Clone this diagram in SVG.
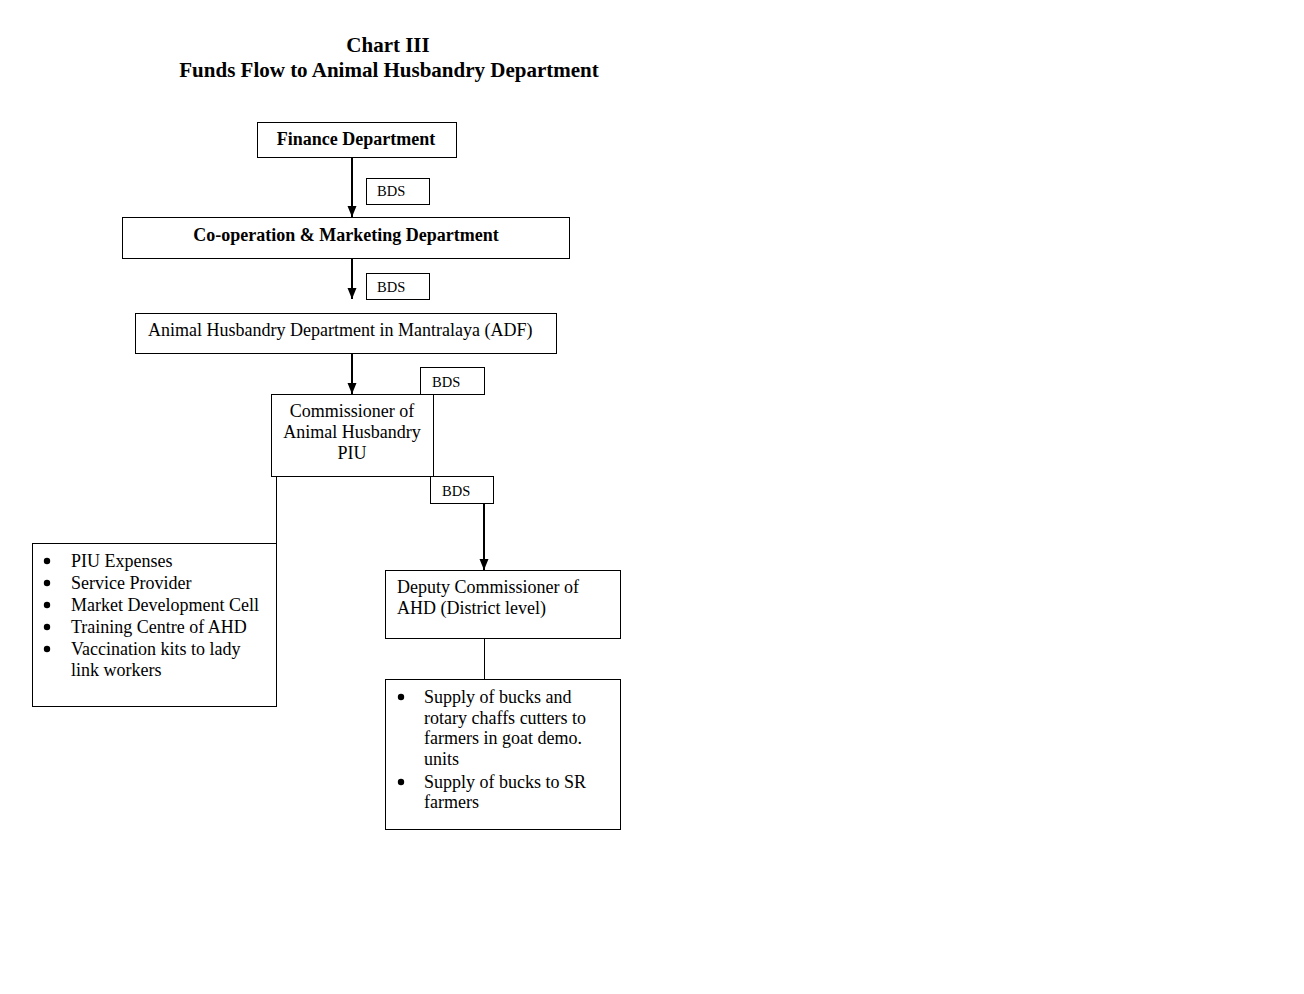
<svg xmlns="http://www.w3.org/2000/svg" width="1304" height="994" viewBox="0 0 1304 994">
  <style>
    .box { fill: #fff; stroke: #000; stroke-width: 1; }
    .t { font-family: "Liberation Serif", "Times New Roman", serif; font-size: 18px; fill: #000; }
    .b { font-weight: bold; font-size: 18px; }
    .title { font-family: "Liberation Serif", "Times New Roman", serif; font-size: 21px; font-weight: bold; text-anchor: middle; }
    .lbl { font-family: "Liberation Serif", "Times New Roman", serif; font-size: 14.5px; }
    .flow { stroke: #000; stroke-width: 2; fill: none; }
    .thin { stroke: #000; stroke-width: 1; fill: none; }
  </style>
  <defs>
    <marker id="head" markerWidth="11" markerHeight="11" refX="11" refY="5" orient="auto" markerUnits="userSpaceOnUse">
      <path d="M0,0.5 L11,5 L0,9.5 Z" fill="#000"/>
    </marker>
  </defs>
  <rect width="1304" height="994" fill="#fff"/>

  <g id="title">
    <text class="title" x="388" y="52">Chart III</text>
    <text class="title" x="389" y="77">Funds Flow to Animal Husbandry Department</text>
  </g>

  <g id="connectors">
    <line class="flow" x1="352" y1="157" x2="352" y2="217" marker-end="url(#head)"/>
    <line class="flow" x1="352" y1="258" x2="352" y2="299" marker-end="url(#head)"/>
    <line class="flow" x1="352" y1="353" x2="352" y2="394" marker-end="url(#head)"/>
    <line class="flow" x1="484" y1="503" x2="484" y2="570" marker-end="url(#head)"/>
    <line class="thin" x1="276.5" y1="476" x2="276.5" y2="543"/>
    <line class="thin" x1="484.5" y1="638" x2="484.5" y2="679"/>
  </g>

  <g id="finance">
    <rect class="box" x="257.5" y="122.5" width="199" height="35"/>
    <text class="t b" x="356" y="145" text-anchor="middle">Finance Department</text>
  </g>
  <g id="bds1">
    <rect class="box" x="366.5" y="178.5" width="63" height="26"/>
    <text class="lbl" x="377" y="196">BDS</text>
  </g>
  <g id="coop">
    <rect class="box" x="122.5" y="217.5" width="447" height="41"/>
    <text class="t b" x="346" y="241" text-anchor="middle">Co-operation &amp; Marketing Department</text>
  </g>
  <g id="bds2">
    <rect class="box" x="366.5" y="273.5" width="63" height="26"/>
    <text class="lbl" x="377" y="292">BDS</text>
  </g>
  <g id="adf">
    <rect class="box" x="135.5" y="313.5" width="421" height="40"/>
    <text class="t" x="148" y="336">Animal Husbandry Department in Mantralaya (ADF)</text>
  </g>
  <g id="bds3">
    <rect class="box" x="420.5" y="367.5" width="64" height="27"/>
    <text class="lbl" x="432" y="387">BDS</text>
  </g>
  <g id="commissioner">
    <rect class="box" x="271.5" y="394.5" width="162" height="82"/>
    <text class="t" x="352" y="417" text-anchor="middle">Commissioner of</text>
    <text class="t" x="352" y="438" text-anchor="middle">Animal Husbandry</text>
    <text class="t" x="352" y="459" text-anchor="middle">PIU</text>
  </g>
  <g id="bds4">
    <rect class="box" x="430.5" y="476.5" width="63" height="27"/>
    <text class="lbl" x="442" y="496">BDS</text>
  </g>
  <g id="piu-items">
    <rect class="box" x="32.5" y="543.5" width="244" height="163"/>
    <g class="t">
      <circle cx="47" cy="561" r="3.2"/>
      <text x="71" y="567">PIU Expenses</text>
      <circle cx="47" cy="583" r="3.2"/>
      <text x="71" y="589">Service Provider</text>
      <circle cx="47" cy="605" r="3.2"/>
      <text x="71" y="611">Market Development Cell</text>
      <circle cx="47" cy="627" r="3.2"/>
      <text x="71" y="633">Training Centre of AHD</text>
      <circle cx="47" cy="649" r="3.2"/>
      <text x="71" y="655">Vaccination kits to lady</text>
      <text x="71" y="676">link workers</text>
    </g>
  </g>
  <g id="deputy">
    <rect class="box" x="385.5" y="570.5" width="235" height="68"/>
    <text class="t" x="397" y="593">Deputy Commissioner of</text>
    <text class="t" x="397" y="614">AHD (District level)</text>
  </g>
  <g id="district-items">
    <rect class="box" x="385.5" y="679.5" width="235" height="150"/>
    <g class="t">
      <circle cx="401" cy="697" r="3.2"/>
      <text x="424" y="703">Supply of bucks and</text>
      <text x="424" y="724">rotary chaffs cutters to</text>
      <text x="424" y="744">farmers in goat demo.</text>
      <text x="424" y="765">units</text>
      <circle cx="401" cy="782" r="3.2"/>
      <text x="424" y="788">Supply of bucks to SR</text>
      <text x="424" y="808">farmers</text>
    </g>
  </g>
</svg>
